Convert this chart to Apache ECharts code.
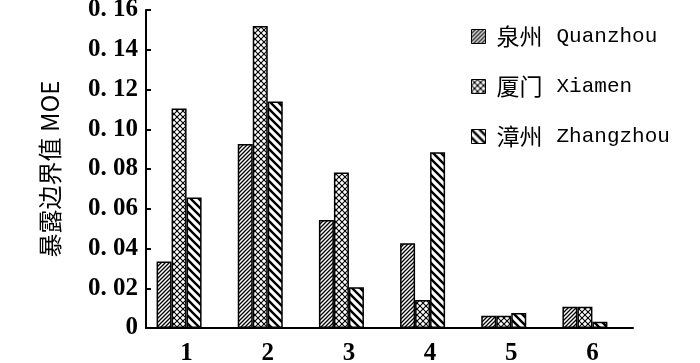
<!DOCTYPE html>
<html><head><meta charset="utf-8">
<script src="https://cdn.jsdelivr.net/npm/echarts@6/dist/echarts.min.js"></script>
<style>html,body{margin:0;padding:0;background:#fff}#c{width:700px;height:363px}</style>
</head><body><div id="c"></div>
<script>
const categories = ['1','2','3','4','5','6'];
const seriesNames = ['泉州 Quanzhou','厦门 Xiamen','漳州 Zhangzhou'];
const quanzhou = [0.0334, 0.0926, 0.0543, 0.0426, 0.0062, 0.0107];
const xiamen   = [0.1105, 0.1520, 0.0783, 0.0141, 0.0062, 0.0107];
const zhangzhou= [0.0657, 0.1139, 0.0205, 0.0884, 0.0075, 0.0032];
const yTicks = {min:0, max:0.16, interval:0.02};

function hatch(size, lw, dirs){
  const c = document.createElement('canvas');
  c.width = size; c.height = size;
  const g = c.getContext('2d');
  g.fillStyle = '#fff'; g.fillRect(0,0,size,size);
  g.strokeStyle = '#000'; g.lineWidth = lw; g.lineCap='square';
  dirs.forEach(d=>{
    for (let k=-1;k<=1;k++){
      g.beginPath();
      if (d==='/'){ g.moveTo(k*size, size); g.lineTo(k*size+size, 0); }
      else { g.moveTo(k*size, 0); g.lineTo(k*size+size, size); }
      g.stroke();
    }
  });
  return {image:c, repeat:'repeat'};
}
const patQ = hatch(4, 1.3, ['/']);
const patX = hatch(6, 1.1, ['/','\\']);
const patZ = hatch(8, 2.4, ['\\']);

const chart = echarts.init(document.getElementById('c'), null, {renderer:'canvas'});
const numFont = {fontFamily:'Liberation Serif', fontWeight:'bold', fontSize:25, color:'#000'};
function barSeries(name, data, pat){
  return {name, type:'bar', data, barWidth:15, barGap:'0%',
    itemStyle:{color:pat, borderColor:'#000', borderWidth:1.5}};
}
chart.setOption({
  animation:false,
  grid:{left:146, right:67, top:10, bottom:35, outerBoundsMode:'none'},
  legend:{
    data:seriesNames, orient:'vertical', left:466, top:20, itemGap:27,
    icon:'rect', itemWidth:14, itemHeight:14,
    itemStyle:{borderColor:'#000', borderWidth:1},
    formatter: n => { const p = n.split(' '); return '{c|'+p[0]+'}{e|'+p[1]+'}'; },
    textStyle:{rich:{
      c:{fontFamily:'Noto Sans CJK SC', fontSize:23, color:'#000', padding:[0,0,0,6]},
      e:{fontFamily:'Liberation Mono', fontSize:21, color:'#000', padding:[0,0,0,14]}
    }}
  },
  xAxis:{type:'category', data:categories,
    axisLine:{lineStyle:{color:'#000', width:2}},
    axisTick:{inside:true, length:5, lineStyle:{color:'#000', width:2}},
    axisLabel:Object.assign({margin:13}, numFont)},
  yAxis:{type:'value', min:yTicks.min, max:yTicks.max, interval:yTicks.interval,
    name:'暴露边界值 MOE', nameLocation:'middle', nameGap:84, nameRotate:90,
    nameTextStyle:{fontFamily:'Noto Sans CJK SC', fontSize:24, color:'#000'},
    splitLine:{show:false},
    axisLine:{show:true, lineStyle:{color:'#000', width:2}},
    axisTick:{show:true, inside:true, length:5, lineStyle:{color:'#000', width:2}},
    axisLabel:Object.assign({margin:8, formatter:v => v===0 ? '0' : v.toFixed(2).replace('.', '. ')}, numFont)},
  series:[
    barSeries(seriesNames[0], quanzhou, patQ),
    barSeries(seriesNames[1], xiamen, patX),
    barSeries(seriesNames[2], zhangzhou, patZ),
    {name:'_pad', type:'bar', data:categories.map(()=>'-'), barWidth:15, barGap:'0%'}
  ]
});
</script></body></html>
